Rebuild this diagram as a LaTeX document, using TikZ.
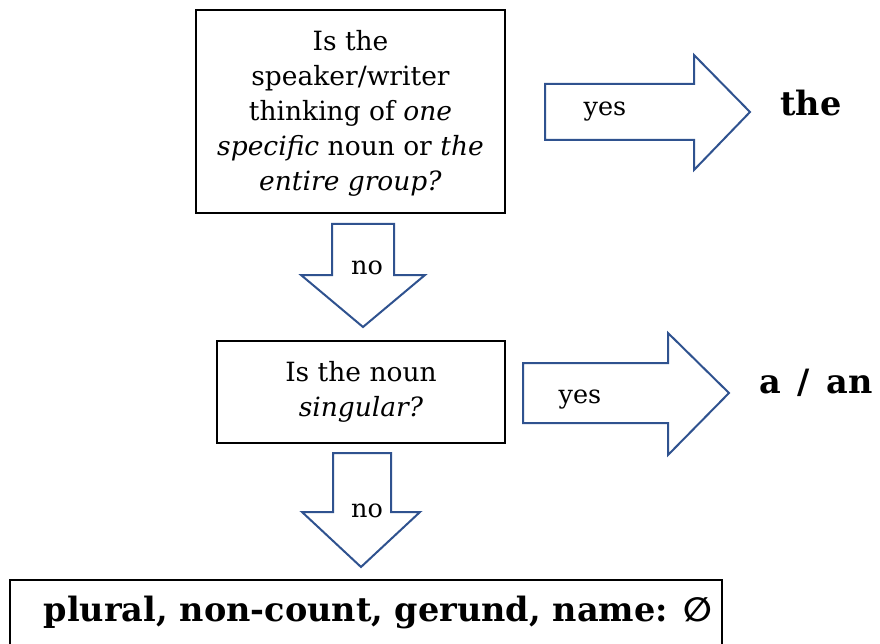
\documentclass[tikz,border=0pt]{standalone}
\usepackage{fontspec}
\setmainfont{DejaVu Serif}
\newfontfamily\symfont{DejaVu Sans}
\definecolor{arrowblue}{HTML}{2F528F}
\tikzset{
  qbox/.style={draw=black, line width=1.8pt, inner sep=0pt},
  qtext/.style={align=center, inner sep=0pt, font=\fontsize{26.5}{35}\selectfont},
  blockarrow/.style={draw=arrowblue, line width=2pt, fill=white, line join=miter},
  lbl/.style={inner sep=0pt, font=\fontsize{25.5}{28}\selectfont},
  answer/.style={inner sep=0pt, font=\fontsize{33.5}{37}\selectfont\bfseries},
}
\begin{document}
\begin{tikzpicture}[x=1pt, y=-1pt]
\useasboundingbox (0,0) rectangle (880,644);
% box 1
\node[qbox, minimum width=309pt, minimum height=203pt] (box1) at (350.5,111.5) {};
\node[qtext] (q1) at ([yshift=-1.5pt]box1.center) {Is the\\speaker/writer\\thinking of \textit{one}\\\textit{specific} noun or \textit{the}\\\textit{entire group?}};
% right arrow 1
\draw[blockarrow] (545,84) -- (694,84) -- (694,55) -- (750,112) -- (694,170) -- (694,140) -- (545,140) -- cycle;
\node[lbl] (yes1) at (605,112) {yes};
\node[answer] (the) at (811,103) {the};
% down arrow 1
\draw[blockarrow] (332,224) -- (394,224) -- (394,275) -- (425,275) -- (363,327) -- (301,275) -- (332,275) -- cycle;
\node[lbl] (no1) at (367,268) {no};
% box 2
\node[qbox, minimum width=288pt, minimum height=102pt] (box2) at (361,392) {};
\node[qtext] (q2) at (box2.center) {Is the noun\\\textit{singular?}};
% right arrow 2
\draw[blockarrow] (523,363) -- (668,363) -- (668,333) -- (729,393) -- (668,455) -- (668,423) -- (523,423) -- cycle;
\node[lbl] (yes2) at (580,400) {yes};
\node[answer] (aan) at (816,383) {a\hspace{0.5em}/\hspace{0.5em}an};
% down arrow 2
\draw[blockarrow] (333,453) -- (391,453) -- (391,512) -- (420,512) -- (361,567) -- (302,512) -- (333,512) -- cycle;
\node[lbl] (no2) at (367,511) {no};
% box 3
\node[qbox, minimum width=712pt, minimum height=80pt] (box3) at (366,620) {};
\node[answer] (res) at (378,612) {plural, non-count, gerund, name: {\symfont ∅}};
\end{tikzpicture}
\end{document}
